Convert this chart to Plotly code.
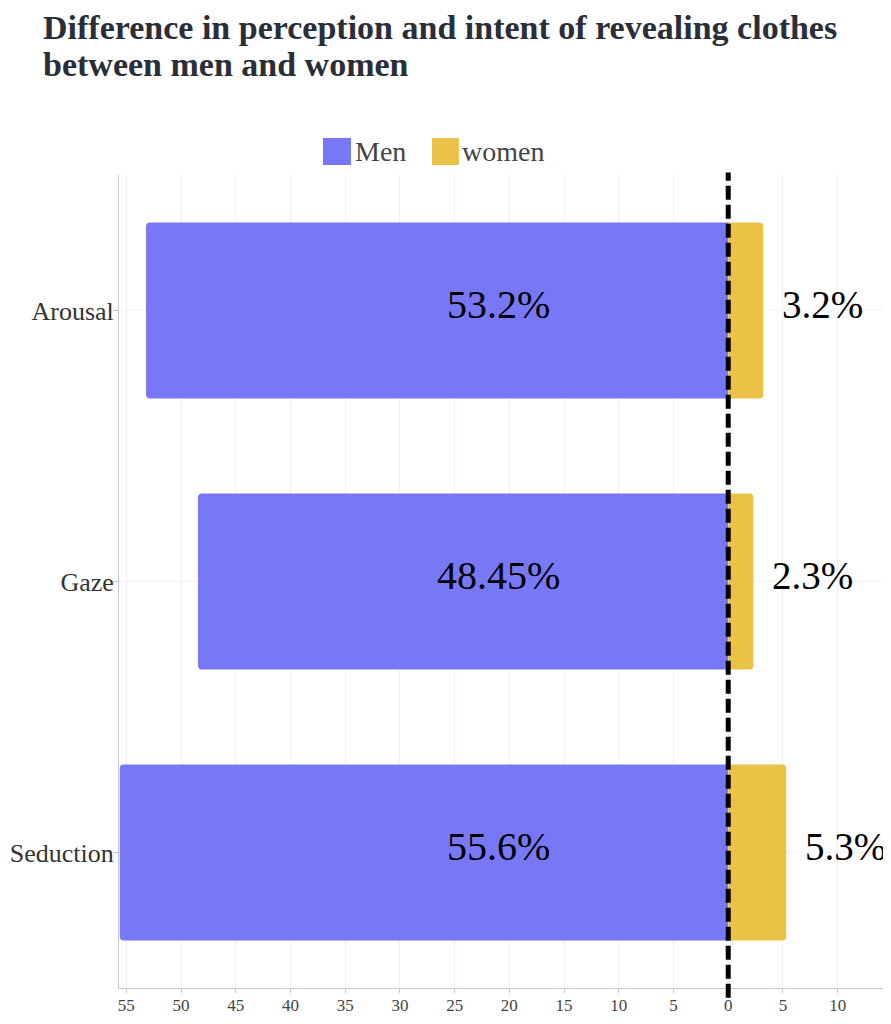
import plotly.graph_objects as go

categories = ["Arousal", "Gaze", "Seduction"]
men = [53.2, 48.45, 55.6]
women = [3.2, 2.3, 5.3]
men_labels = ["53.2%", "48.45%", "55.6%"]
women_labels = ["3.2%", "2.3%", "5.3%"]
tick_vals = [-55, -50, -45, -40, -35, -30, -25, -20, -15, -10, -5, 0, 5, 10]
tick_text = ["55", "50", "45", "40", "35", "30", "25", "20", "15", "10", "5", "0", "5", "10"]
title_lines = ["Difference in perception and intent of revealing clothes", "between men and women"]
legend_names = ["Men", "women"]

MEN_COLOR = "#7878F6"
WOMEN_COLOR = "#EBC246"
SERIF = "Liberation Serif"

fig = go.Figure()
fig.add_trace(go.Bar(
    y=categories, x=[-v for v in men], orientation="h", name=legend_names[0],
    marker=dict(color=MEN_COLOR, cornerradius=4, line=dict(width=0)),
    width=0.65, showlegend=False, hoverinfo="skip",
))
fig.add_trace(go.Bar(
    y=categories, x=women, orientation="h", name=legend_names[1],
    marker=dict(color=WOMEN_COLOR, cornerradius=4, line=dict(width=0)),
    width=0.65, showlegend=False, hoverinfo="skip",
))

annotations = []
for c, lab in zip(categories, men_labels):
    annotations.append(dict(x=-21, y=c, xref="x", yref="y", text=lab, showarrow=False,
                            font=dict(family=SERIF, size=40, color="black"),
                            xanchor="center", yanchor="middle", yshift=6))
for c, v, lab in zip(categories, women, women_labels):
    annotations.append(dict(x=v, y=c, xref="x", yref="y", text=lab, showarrow=False,
                            font=dict(family=SERIF, size=39, color="black"),
                            xanchor="left", yanchor="middle", xshift=17, yshift=6))

# title lines
for txt, py in zip(title_lines, [1.181, 1.1355]):
    annotations.append(dict(x=-0.101, y=py, xref="paper", yref="paper", text="<b>%s</b>" % txt,
                            showarrow=False, xanchor="left", yanchor="middle",
                            font=dict(family=SERIF, size=34, color="#2a2e38")))

# custom legend
legend_pos = [(0.2653, 0.3017), (0.407, 0.442)]
legend_cols = [MEN_COLOR, WOMEN_COLOR]
shapes = []
for name, col, (x0, x1) in zip(legend_names, legend_cols, legend_pos):
    shapes.append(dict(type="rect", xref="paper", yref="paper",
                       x0=x0, x1=x1, y0=1.0123, y1=1.0455,
                       fillcolor=col, line=dict(width=0)))
    annotations.append(dict(x=x1 + 0.002, y=1.0283, xref="paper", yref="paper", text=name,
                            showarrow=False, xanchor="left", yanchor="middle",
                            font=dict(family=SERIF, size=28, color="#444")))

shapes.append(dict(type="line", xref="x", yref="paper", x0=0, x1=0, y0=-0.012, y1=1.003,
                   line=dict(color="black", width=5, dash="14px,5px")))

# the page adds an 8px body margin, so the figure is 8px smaller than the window
fig.update_layout(
    width=883, height=1016,
    margin=dict(l=111, r=3, t=167, b=36),
    paper_bgcolor="white", plot_bgcolor="white",
    barmode="relative",
    xaxis=dict(range=[-55.67, 14.6], tickvals=tick_vals, ticktext=tick_text,
               tickfont=dict(family=SERIF, size=17, color="#444"),
               showgrid=True, gridcolor="#efeff5", gridwidth=1, automargin=False,
               zeroline=False, showline=True, linecolor="#c8c8d2", linewidth=1,
               ticks="outside", ticklen=4, tickcolor="#c8c8d2", fixedrange=True,
               ticklabelstandoff=-2),
    yaxis=dict(categoryorder="array", categoryarray=categories[::-1],
               tickfont=dict(family=SERIF, size=26, color="#333"), automargin=False,
               showgrid=True, gridcolor="#f3f3f7", showline=True, linecolor="#c8c8d2",
               linewidth=1, ticks="outside", ticklen=5, tickcolor="#c8c8d2",
               range=[-0.5, 2.5], ticklabelstandoff=-6),
    annotations=annotations, shapes=shapes,
    bargap=0.35,
)

fig.write_html("out.html")
